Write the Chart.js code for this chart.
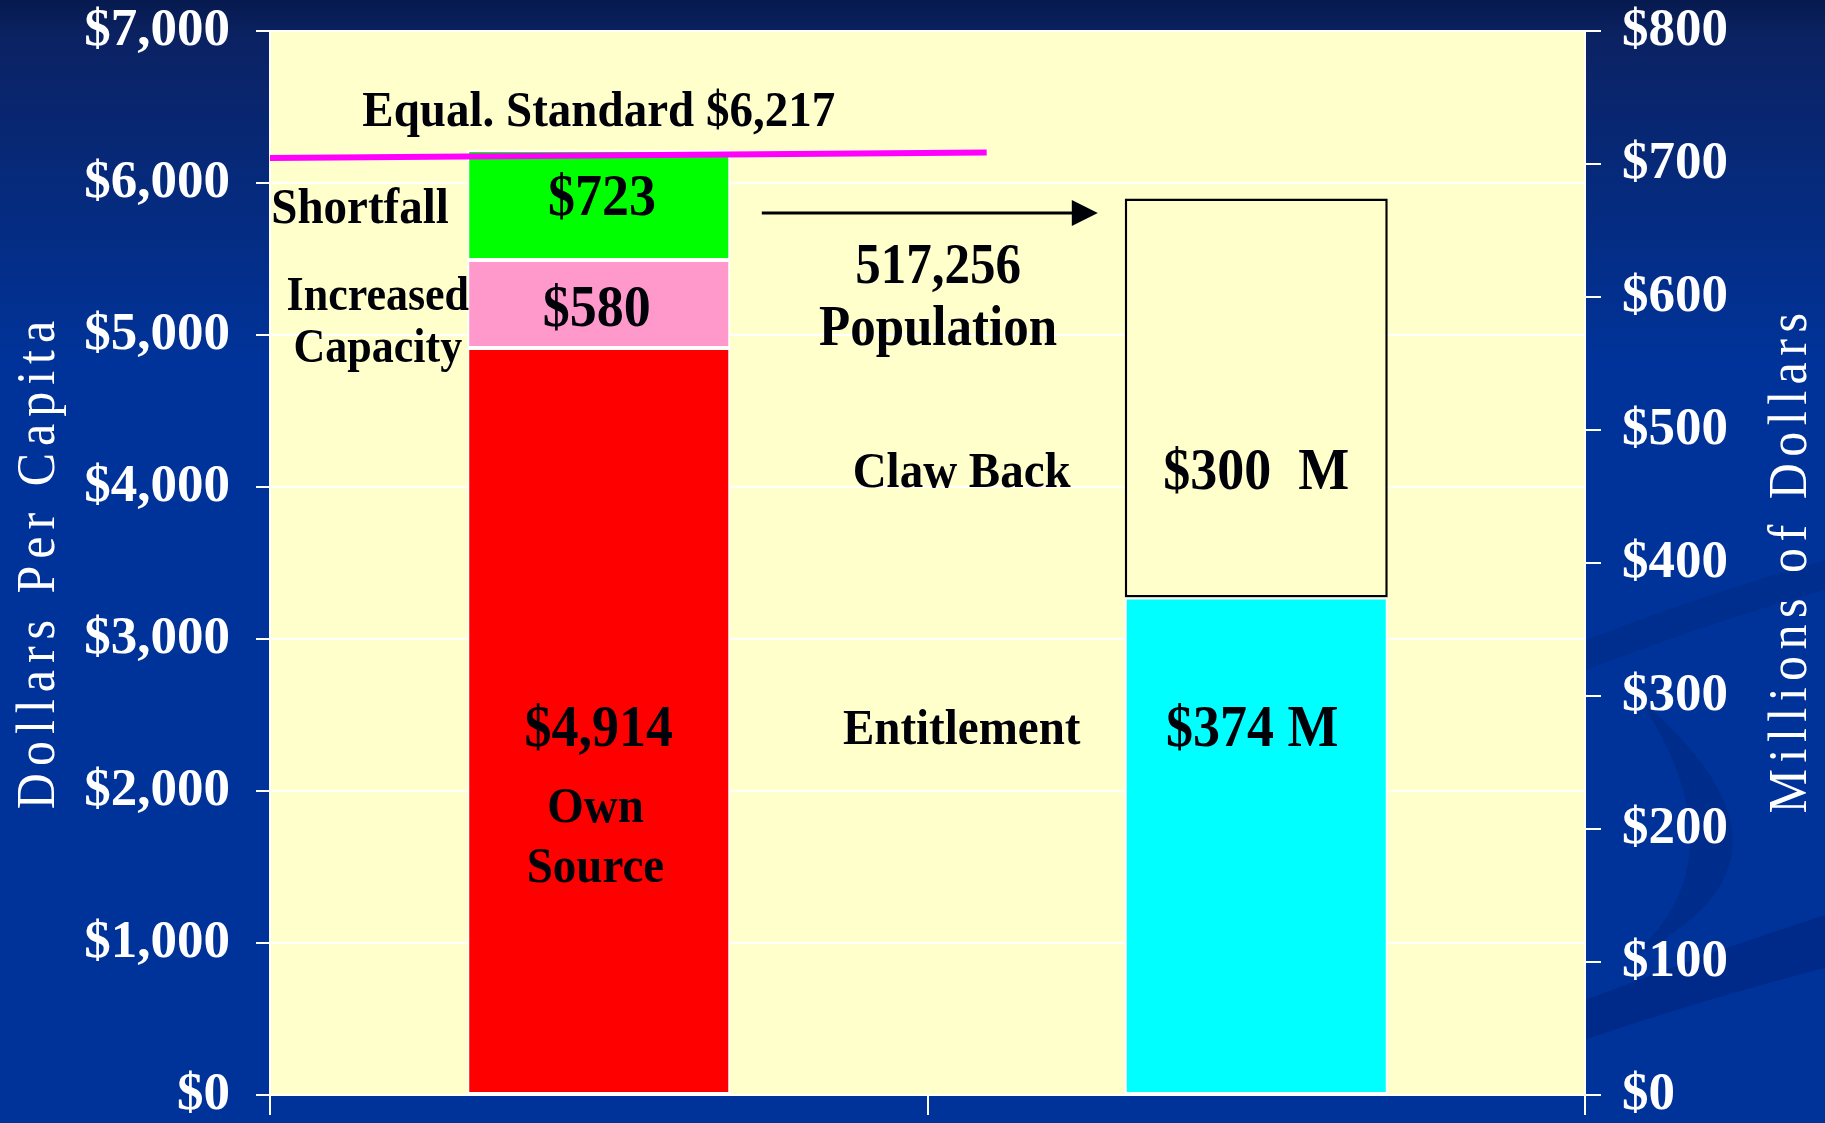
<!DOCTYPE html>
<html>
<head>
<meta charset="utf-8">
<script src="https://cdn.jsdelivr.net/npm/chart.js@4.4.1/dist/chart.umd.min.js"></script>
<style>
  html, body { margin: 0; padding: 0; background: #003399; overflow: hidden; }
  #wrap { width: 1825px; height: 1123px; position: relative; }
  canvas { display: block; }
</style>
</head>
<body>
<div id="wrap"><canvas id="c" width="1825" height="1123"></canvas></div>
<script>
// ---------------- data ----------------
const categories = ['Dollars Per Capita', 'Millions of Dollars'];
const ownSource = [4914, null];          // $ per capita
const increasedCapacity = [580, null];   // $ per capita
const shortfall = [723, null];           // $ per capita
const entitlement = [null, 374];         // $ millions
const clawBack = [null, 300];            // $ millions
const equalStandard = [6165, 6200];      // drawn (slightly tilted) standard line, $ per capita
const equalStandardX = [-0.5, 0.59];     // line extent in category units
const leftTickValues = [0, 1000, 2000, 3000, 4000, 5000, 6000, 7000];
const rightTickValues = [0, 100, 200, 300, 400, 500, 600, 700, 800];
const leftTitle = 'Dollars Per Capita';
const rightTitle = 'Millions of Dollars';

// text notes placed in data units (x: category units, y: left-axis value)
const notes = [
  { t: 'Equal. Standard $6,217', x: 0.0,   y: 6487, s: 47 },
  { t: 'Shortfall',              x: -0.363, y: 5849, s: 47 },
  { t: '$723',                   x: 0.005, y: 5914, s: 54 },
  { t: 'Increased',              x: -0.336, y: 5276, s: 44 },
  { t: 'Capacity',               x: -0.336, y: 4928, s: 44 },
  { t: '$580',                   x: -0.003, y: 5184, s: 54 },
  { t: '$4,914',                 x: 0.0,   y: 2421, s: 54 },
  { t: 'Own',                    x: -0.005, y: 1908, s: 47 },
  { t: 'Source',                 x: -0.005, y: 1513, s: 47 },
  { t: '517,256',                x: 0.516, y: 5467, s: 51 },
  { t: 'Population',             x: 0.516, y: 5053, s: 51 },
  { t: 'Claw Back',              x: 0.552, y: 4112, s: 47 },
  { t: '$300  M',                x: 1.0,   y: 4112, s: 54 },
  { t: 'Entitlement',            x: 0.552, y: 2421, s: 47 },
  { t: '$374 M',                 x: 0.994, y: 2421, s: 54 }
];
const arrowNote = { x0: 0.248, x1: 0.759, y: 5803 };

const SERIF = '"Liberation Serif", "Times New Roman", Times, serif';
const TEXT_STRETCH = 1.1;   // original lettering is slightly taller than wide
const TEXT_DROP = 4;        // optical centring of glyphs

// ---------------- plugins ----------------
const backgroundPlugin = {
  id: 'bgPlugin',
  beforeDraw(chart) {
    const { ctx, width, height, chartArea: a } = chart;
    ctx.save();
    const g = ctx.createLinearGradient(0, 0, 0, height);
    g.addColorStop(0, '#061A4E');
    g.addColorStop(0.03, '#0B2262');
    g.addColorStop(0.32, '#003399');
    g.addColorStop(1, '#003399');
    ctx.fillStyle = g;
    ctx.fillRect(0, 0, width, height);

    // subtle darker swooshes at the lower right
    ctx.fillStyle = 'rgba(0, 30, 110, 0.38)';
    ctx.beginPath();
    ctx.moveTo(1560, 1010);
    ctx.quadraticCurveTo(1700, 955, 1825, 915);
    ctx.lineTo(1825, 968);
    ctx.quadraticCurveTo(1700, 1000, 1560, 1048);
    ctx.closePath();
    ctx.fill();

    ctx.fillStyle = 'rgba(0, 30, 110, 0.30)';
    ctx.beginPath();
    ctx.moveTo(1640, 700);
    ctx.quadraticCurveTo(1830, 860, 1630, 958);
    ctx.quadraticCurveTo(1745, 860, 1640, 700);
    ctx.closePath();
    ctx.fill();

    ctx.fillStyle = 'rgba(0, 30, 110, 0.22)';
    ctx.beginPath();
    ctx.moveTo(1560, 650);
    ctx.quadraticCurveTo(1700, 595, 1825, 560);
    ctx.lineTo(1825, 590);
    ctx.quadraticCurveTo(1700, 625, 1560, 680);
    ctx.closePath();
    ctx.fill();

    // plot area
    ctx.fillStyle = '#FFFFCC';
    ctx.fillRect(a.left, a.top, a.right - a.left, a.bottom - a.top);
    ctx.restore();
  }
};

const notesPlugin = {
  id: 'notesPlugin',
  afterDatasetsDraw(chart) {
    const { ctx } = chart;
    const xs = chart.scales.xl, ys = chart.scales.y;
    ctx.save();
    ctx.fillStyle = '#000008';
    ctx.textAlign = 'center';
    ctx.textBaseline = 'middle';
    for (const n of notes) {
      ctx.save();
      ctx.font = `bold ${n.s}px ${SERIF}`;
      ctx.translate(xs.getPixelForValue(n.x), ys.getPixelForValue(n.y) + TEXT_DROP);
      ctx.scale(1, TEXT_STRETCH);
      ctx.fillText(n.t, 0, 0);
      ctx.restore();
    }
    // arrow
    const x0 = xs.getPixelForValue(arrowNote.x0);
    const x1 = xs.getPixelForValue(arrowNote.x1);
    const yy = ys.getPixelForValue(arrowNote.y);
    ctx.strokeStyle = '#000008';
    ctx.lineWidth = 3;
    ctx.beginPath();
    ctx.moveTo(x0, yy);
    ctx.lineTo(x1 - 24, yy);
    ctx.stroke();
    ctx.beginPath();
    ctx.moveTo(x1, yy);
    ctx.lineTo(x1 - 26, yy - 13);
    ctx.lineTo(x1 - 26, yy + 13);
    ctx.closePath();
    ctx.fill();
    ctx.restore();
  }
};

const titlesPlugin = {
  id: 'titlesPlugin',
  afterDraw(chart) {
    const { ctx, chartArea: a } = chart;
    const yL = chart.scales.y, yR = chart.scales.y1;
    const cy = (a.top + a.bottom) / 2;
    ctx.save();
    ctx.fillStyle = '#FFFFFF';
    ctx.font = `50px ${SERIF}`;
    ctx.textAlign = 'center';
    ctx.textBaseline = 'middle';
    ctx.save();
    if ('letterSpacing' in ctx) ctx.letterSpacing = '7px';
    ctx.translate(yL.left + 40, cy + 2);
    ctx.rotate(-Math.PI / 2);
    ctx.scale(1, TEXT_STRETCH);
    ctx.fillText(leftTitle, 3.5, 0);
    ctx.restore();
    ctx.save();
    if ('letterSpacing' in ctx) ctx.letterSpacing = '6.5px';
    ctx.translate(yR.right - 33, cy);
    ctx.rotate(-Math.PI / 2);
    ctx.scale(1, TEXT_STRETCH);
    ctx.fillText(rightTitle, 3, 0);
    ctx.restore();
    ctx.restore();
  }
};

// ---------------- chart ----------------
const money = v => '$' + Number(v).toLocaleString('en-US');
const tickFont = { family: SERIF, weight: 'bold', size: 53, lineHeight: 1.2 };

const segBorder = { borderColor: '#FFFFFF', borderWidth: 2, borderSkipped: false };

new Chart(document.getElementById('c'), {
  data: {
    labels: categories,
    datasets: [
      {
        type: 'line', label: 'Equal. Standard', xAxisID: 'xl', yAxisID: 'y', stack: 'line',
        data: equalStandardX.map((x, i) => ({ x: x, y: equalStandard[i] })),
        borderColor: '#FF00FF', borderWidth: 6, pointRadius: 0, tension: 0, order: -1, fill: false
      },
      { type: 'bar', label: 'Own Source', data: ownSource, yAxisID: 'y', xAxisID: 'x', stack: 's',
        backgroundColor: '#FF0000', ...segBorder },
      { type: 'bar', label: 'Increased Capacity', data: increasedCapacity, yAxisID: 'y', xAxisID: 'x', stack: 's',
        backgroundColor: '#FF99CC', ...segBorder },
      { type: 'bar', label: 'Shortfall', data: shortfall, yAxisID: 'y', xAxisID: 'x', stack: 's',
        backgroundColor: '#00FF00', ...segBorder },
      { type: 'bar', label: 'Entitlement', data: entitlement, yAxisID: 'y1', xAxisID: 'x', stack: 's',
        backgroundColor: '#00FFFF', ...segBorder },
      { type: 'bar', label: 'Claw Back', data: clawBack, yAxisID: 'y1', xAxisID: 'x', stack: 's',
        backgroundColor: '#FFFFCC', borderColor: '#000000', borderWidth: 2.5, borderSkipped: false }
    ]
  },
  options: {
    responsive: false,
    animation: false,
    events: [],
    layout: { padding: { top: 31, left: 0, right: 0, bottom: 0 } },
    datasets: { bar: { categoryPercentage: 0.8, barPercentage: 0.5, grouped: false } },
    plugins: { legend: { display: false }, tooltip: { enabled: false }, title: { display: false } },
    scales: {
      x: {
        type: 'category', position: 'bottom', offset: true,
        ticks: { display: false },
        grid: { display: true, drawOnChartArea: false, drawTicks: true, tickLength: 20, color: '#FFFFFF', lineWidth: 2, offset: true },
        border: { display: true, color: '#FFFFFF', width: 2 },
        afterFit(s) { s.height = 28; s.paddingLeft = 0; s.paddingRight = 0; }
      },
      xl: {
        type: 'linear', display: false, min: -0.5, max: 1.5
      },
      y: {
        type: 'linear', position: 'left', stacked: true, min: 0, max: 7000,
        afterBuildTicks(s) { s.ticks = leftTickValues.map(v => ({ value: v })); },
        ticks: { color: '#FFFFFF', font: tickFont, padding: 26, callback: v => money(v) },
        grid: { color: '#FFFFFF', lineWidth: 2, tickLength: 14, drawTicks: true },
        border: { display: true, color: '#FFFFFF', width: 2 },
        afterFit(s) { s.width = 270; s.paddingTop = 0; s.paddingBottom = 0; }
      },
      y1: {
        type: 'linear', position: 'right', stacked: true, min: 0, max: 800,
        afterBuildTicks(s) { s.ticks = rightTickValues.map(v => ({ value: v })); },
        ticks: { color: '#FFFFFF', font: tickFont, padding: 21, callback: v => money(v) },
        grid: { drawOnChartArea: false, color: '#FFFFFF', lineWidth: 2, tickLength: 16, drawTicks: true },
        border: { display: true, color: '#FFFFFF', width: 2 },
        afterFit(s) { s.width = 240; s.paddingTop = 0; s.paddingBottom = 0; }
      }
    }
  },
  plugins: [backgroundPlugin, notesPlugin, titlesPlugin]
});
</script>
</body>
</html>
